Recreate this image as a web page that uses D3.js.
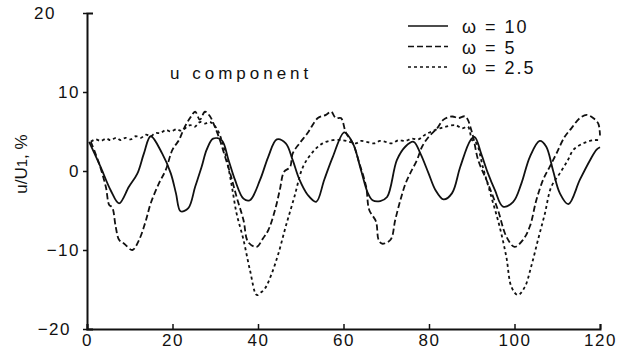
<!DOCTYPE html>
<html>
<head>
<meta charset="utf-8">
<script src="https://cdn.jsdelivr.net/npm/d3@7"></script>
<style>
  html, body { margin: 0; padding: 0; background: #fff; }
  svg { display: block; font-family: "Liberation Sans", Arial, Helvetica, sans-serif; }
</style>
</head>
<body>
<svg id="chart" width="620" height="363"></svg>
<script>
// Streamwise velocity fluctuation u/U1 (%) against time for three forcing frequencies
const t10 = [0.5, 3.2, 5.5, 7.5, 9.8, 11.8, 13.3, 14.9, 17.6, 19.6, 20.8, 21.9, 23.7, 25.3, 26.8, 28.0, 29.5, 31.5, 33.1, 34.6,
  36.6, 38.1, 40.5, 42.4, 44.4, 46.5, 48.1, 49.7, 51.6, 53.6, 55.5, 57.5, 60.2, 62.2, 64.1, 65.7, 66.8, 68.6, 70.2, 72.5,
  74.5, 76.4, 78.0, 79.9, 81.5, 83.4, 85.4, 87.3, 89.7, 90.7, 92.2, 93.8, 95.4, 97.3, 99.7, 101.6, 103.6, 105.9, 107.4,
  109.0, 110.6, 112.6, 115.3, 117.7, 119.2, 120];
const u10 = [3.7, 0.5, -2.4, -4.1, -2.0, -0.3, 2.2, 4.4, 2.2, -0.3, -2.8, -5.1, -4.7, -2.0, 0.5, 2.7, 4.1, 3.9, 1.4, -1.1,
  -3.5, -3.7, -1.1, 1.8, 4.0, 3.5, 1.4, -1.1, -3.0, -3.9, -1.1, 1.8, 4.9, 3.5, 0.1, -2.8, -3.7, -3.8, -3.3, 1.4,
  3.1, 3.7, 2.2, -0.3, -2.4, -3.6, -2.8, 0.5, 3.9, 4.3, 2.2, -0.3, -2.4, -4.5, -3.9, -1.6, 1.8, 3.8, 3.1,
  0.1, -2.8, -4.2, -1.1, 1.4, 2.7, 3.0];

const t5 = [0.9, 2.8, 4.4, 5.2, 5.9, 6.7, 7.5, 8.7, 10.6, 12.2, 13.7, 14.9, 16.8, 18.4, 20.0, 21.5, 22.7, 24.1, 25.3, 26.4,
  27.6, 28.8, 29.9, 31.1, 32.3, 33.5, 35.0, 36.6, 37.7, 39.7, 41.2, 42.4, 44.0, 45.1, 46.1, 47.5, 48.1, 49.7, 51.6, 54.0,
  55.9, 57.1, 58.2, 59.4, 60.6, 62.2, 63.7, 65.3, 66.0, 67.6, 68.2, 69.0, 71.0, 72.1, 73.3, 74.5, 75.6, 77.2, 78.4, 79.9,
  81.9, 83.4, 85.4, 86.9, 88.5, 90.1, 91.5, 93.8, 96.1, 98.1, 100.0, 102.0, 103.6, 105.1, 106.7, 108.2, 109.8, 111.7,
  113.3, 115.3, 116.9, 118.4, 119.6, 120];
const u5 = [3.7, 1.0, -2.0, -4.3, -4.6, -7.0, -8.7, -9.2, -10.0, -8.7, -6.4, -4.1, -1.6, 0.1, 2.7, 3.9, 5.4, 6.7, 7.5, 6.5,
  7.5, 6.9, 5.6, 3.9, 1.8, -0.3, -3.3, -6.2, -9.0, -9.6, -8.5, -7.5, -4.9, -2.4, -0.1, 0.5, 2.2, 3.5, 4.8, 6.7,
  7.1, 7.5, 6.7, 6.7, 4.8, 3.5, 1.0, -2.0, -4.9, -6.4, -8.7, -9.2, -8.7, -6.2, -3.7, -1.6, -0.3, 1.4, 3.1, 4.3,
  5.4, 6.5, 6.9, 6.7, 6.9, 4.8, 1.4, -1.6, -4.9, -8.3, -9.6, -8.7, -7.0, -3.7, -1.1, 0.5, 2.2, 4.3,
  5.4, 6.7, 7.1, 6.7, 6.0, 4.5];

const t25 = [0.9, 2.0, 3.2, 4.5, 5.5, 6.8, 7.9, 9.0, 10.2, 11.4, 12.6, 13.8, 14.9, 16.0, 17.2, 18.4, 19.6, 21.0, 22.0, 24.1,
  25.2, 26.4, 27.6, 28.8, 30.3, 31.5, 32.7, 33.9, 35.0, 36.6, 38.1, 39.7, 40.6, 41.6, 43.2, 44.8, 46.5, 48.5, 50.5, 52.8,
  55.1, 57.5, 59.8, 61.4, 62.9, 64.1, 65.3, 67.2, 68.5, 69.8, 71.3, 72.9, 74.5, 76.0, 77.5, 79.1, 81.5, 83.8, 86.2, 87.7,
  89.1, 90.1, 91.1, 92.6, 94.6, 96.5, 98.1, 99.3, 100.8, 102.4, 103.9, 105.5, 107.1, 108.6, 110.6, 112.5, 113.8, 116.1,
  118.4, 120];
const u25 = [3.7, 4.0, 3.8, 4.1, 3.9, 4.2, 3.9, 4.2, 4.0, 4.4, 4.2, 4.6, 4.4, 4.8, 4.8, 5.2, 5.0, 5.3, 5.1, 5.8,
  5.6, 6.2, 6.0, 6.2, 5.4, 3.9, 1.4, -2.0, -5.4, -8.7, -12.5, -15.7, -15.4, -14.9, -13.0, -10.4, -7.0, -3.3, 0.5, 2.4,
  3.5, 3.9, 3.9, 3.7, 3.5, 3.8, 3.7, 3.5, 3.8, 3.7, 3.5, 3.9, 3.8, 4.1, 4.0, 4.6, 5.2, 5.6, 5.8, 5.4,
  5.6, 3.9, 3.5, 0.5, -3.3, -7.0, -10.9, -14.7, -15.7, -14.7, -12.1, -8.7, -5.4, -2.0, -0.3, 1.4, 2.7, 3.5,
  3.9, 3.9];

const seriesLabels = ["ω = 10", "ω = 5", "ω = 2.5"];
const xTicks = [0, 20, 40, 60, 80, 100, 120];
const yTicks = [-20, -10, 0, 10, 20];
const panelTitle = "u component";

const series = [
  { label: seriesLabels[0], t: t10, u: u10, dash: null },
  { label: seriesLabels[1], t: t5, u: u5, dash: "6,3" },
  { label: seriesLabels[2], t: t25, u: u25, dash: "3,3" }
];

const svg = d3.select("#chart");
const ink = "#111";

const x = d3.scaleLinear().domain([0, 120]).range([87, 600]);
const y = d3.scaleLinear().domain([-20, 20]).range([329, 13]);

// Curves
const line = d3.line()
  .x(d => x(d[0]))
  .y(d => y(d[1]))
  .curve(d3.curveCatmullRom.alpha(0.5));

svg.append("g").selectAll("path")
  .data(series)
  .join("path")
  .attr("d", s => line(s.t.map((t, i) => [t, s.u[i]])))
  .attr("fill", "none")
  .attr("stroke", ink)
  .attr("stroke-width", 1.8)
  .attr("stroke-dasharray", s => s.dash);

// Axes
const yAxis = d3.axisLeft(y)
  .tickValues(yTicks)
  .tickSizeInner(4)
  .tickSizeOuter(-6)
  .tickPadding(3)
  .tickFormat(d3.format("d"));

const gy = svg.append("g").attr("transform", `translate(${x(0)},0)`).call(yAxis);
gy.select(".domain").attr("stroke", ink).attr("stroke-width", 2);
gy.selectAll(".tick line").attr("stroke", ink).attr("stroke-width", 1.5);
gy.selectAll(".tick text")
  .attr("fill", ink)
  .attr("font-size", 17)
  .attr("letter-spacing", 1.5)
  .attr("font-family", "Liberation Sans, Arial, sans-serif")
  .attr("dx", d => d === 20 ? -24 : d === -20 ? -9 : 0);

const xAxis = d3.axisBottom(x)
  .tickValues(xTicks)
  .tickSizeInner(-5)
  .tickSizeOuter(-5)
  .tickPadding(5)
  .tickFormat(d3.format("d"));

const gx = svg.append("g").attr("transform", `translate(0,${y(-20)})`).call(xAxis);
gx.select(".domain").attr("stroke", ink).attr("stroke-width", 2);
gx.selectAll(".tick line").attr("stroke", ink).attr("stroke-width", 1.5);
gx.selectAll(".tick text")
  .attr("fill", ink)
  .attr("font-size", 17)
  .attr("letter-spacing", 1.5)
  .attr("font-family", "Liberation Sans, Arial, sans-serif");

// Y axis title
const yTitle = svg.append("text")
  .attr("transform", "translate(27,164) rotate(-90)")
  .attr("text-anchor", "middle")
  .attr("font-size", 17)
  .attr("fill", ink);
yTitle.append("tspan").text("u/U");
yTitle.append("tspan").attr("font-size", 15).text("1");
yTitle.append("tspan").text(", %");

// Panel title
svg.append("text")
  .attr("x", 170)
  .attr("y", 79)
  .attr("font-size", 17)
  .attr("letter-spacing", 4)
  .attr("fill", ink)
  .text(panelTitle);

// Legend
const legend = svg.append("g").selectAll("g")
  .data(series)
  .join("g")
  .attr("transform", (d, i) => `translate(408,${33 + i * 20.5})`);

legend.append("line")
  .attr("x1", 0).attr("x2", 40)
  .attr("y1", -7).attr("y2", -7)
  .attr("stroke", ink)
  .attr("stroke-width", 1.4)
  .attr("stroke-dasharray", d => d.dash);

legend.append("text")
  .attr("x", 54)
  .attr("y", 0)
  .attr("font-size", 18)
  .attr("letter-spacing", 2)
  .attr("fill", ink)
  .text(d => d.label);
</script>
</body>
</html>
